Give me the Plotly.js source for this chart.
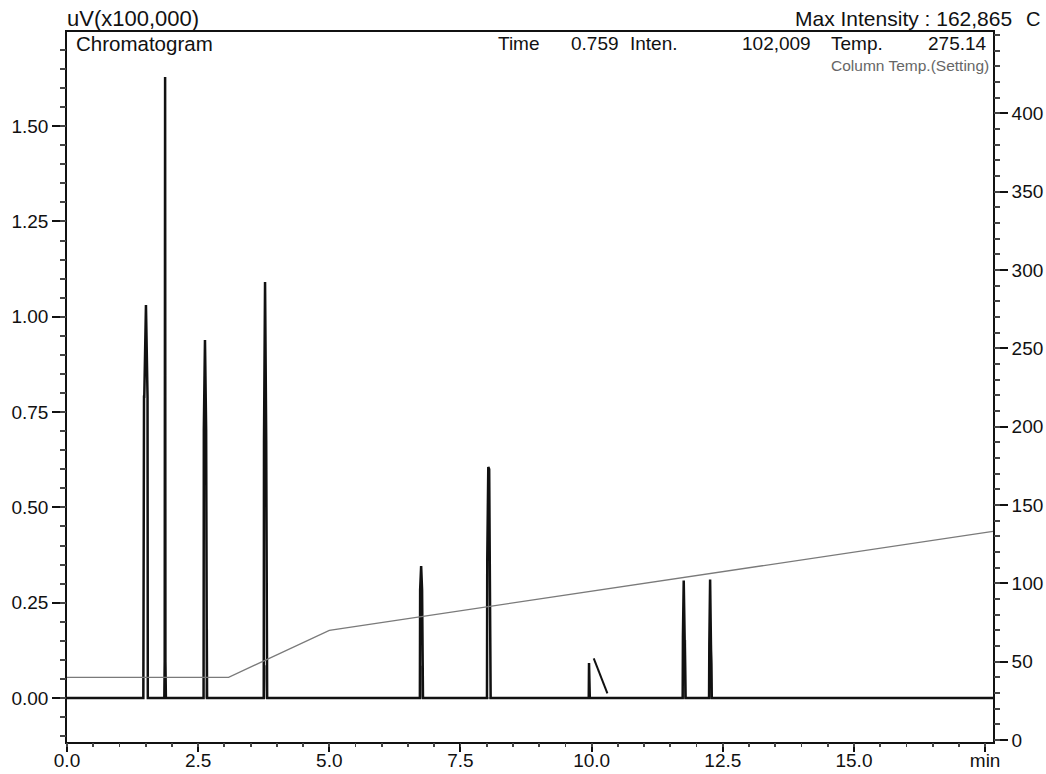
<!DOCTYPE html>
<html>
<head>
<meta charset="utf-8">
<script src="https://cdn.plot.ly/plotly-3.0.1.min.js"></script>
<style>
html,body{margin:0;padding:0;background:#fff;}
#chart{width:1046px;height:774px;}
</style>
</head>
<body>
<div id="chart"></div>
<script>
// Chromatogram signal (uV x100,000) vs retention time (min)
const chromTime = [
  0, 1.455, 1.468, 1.473, 1.505, 1.535, 1.54, 1.552,
  1.855, 1.862, 1.87, 1.876, 1.885,
  2.595, 2.603, 2.608, 2.63, 2.652, 2.657, 2.667,
  3.74, 3.75, 3.755, 3.775, 3.797, 3.802, 3.815,
  6.715, 6.726, 6.731, 6.75, 6.768, 6.772, 6.785,
  7.995, 8.005, 8.01, 8.03, 8.047, 8.058, 8.062, 8.075,
  9.935, 9.945, 9.95, 9.955, 9.965,
  11.725, 11.735, 11.74, 11.755, 11.772, 11.777, 11.79,
  12.23, 12.238, 12.243, 12.258, 12.274, 12.279, 12.29,
  17.65
];
const chromValue = [
  0, 0, 0.79, 0.79, 1.031, 0.79, 0.0, 0,
  0, 0.095, 1.629, 0.095, 0,
  0, 0, 0.703, 0.939, 0.703, 0.0, 0,
  0, 0, 0.674, 1.091, 0.674, 0.11, 0,
  0, 0, 0.283, 0.346, 0.283, 0.0, 0,
  0, 0, 0.357, 0.606, 0.600, 0.357, 0.118, 0,
  0, 0, 0.092, 0.0, 0,
  0, 0, 0.16, 0.308, 0.16, 0.0, 0,
  0, 0, 0.14, 0.311, 0.14, 0.0, 0,
  0
];
// tailing segment after the peak near 10 min
const tailTime = [10.04, 10.30];
const tailValue = [0.104, 0.012];

// light companion trace at peak bases
const lightTime = [
  2.655, 2.662, 2.676, 2.682,
  3.77, 3.777, 3.797, 3.805, 3.815,
  6.75, 6.757, 6.777, 6.784,
  11.765, 11.772, 11.79, 11.797,
  12.268, 12.275, 12.293, 12.30
];
const lightValue = [
  0, 0.18, 0.18, 0,
  0, 0.084, 0.084, 0.02, 0,
  0, 0.083, 0.083, 0,
  0, 0.15, 0.15, 0,
  0, 0.14, 0.09, 0
];

// Column temperature programme (setting), deg C
const tempTime = [0, 3.08, 5.0, 17.65];
const tempValue = [40, 40, 70, 133.2];

const xTickVals = [0, 2.5, 5.0, 7.5, 10.0, 12.5, 15.0, 17.5];
const xTickText = ['0.0', '2.5', '5.0', '7.5', '10.0', '12.5', '15.0', 'min'];
const y2TickVals = [0, 50, 100, 150, 200, 250, 300, 350, 400];

// header read-outs
const headerLeft = 'uV(x100,000)';
const headerRight = 'Max Intensity : 162,865';
const headerUnit = 'C';
const panelTitle = 'Chromatogram';
const cursorLabels = ['Time', '0.759', 'Inten.', '102,009', 'Temp.', '275.14'];
const tempLegend = 'Column Temp.(Setting)';

const FONT = 'Liberation Sans, Arial, sans-serif';

const traces = [
  {x: lightTime, y: lightValue, type: 'scatter', mode: 'lines',
   line: {color: '#8a8a8a', width: 1.4}, xaxis: 'x', yaxis: 'y'},
  {x: tempTime, y: tempValue, type: 'scatter', mode: 'lines',
   line: {color: '#7a7a7a', width: 1.3}, yaxis: 'y2'},
  {x: chromTime, y: chromValue, type: 'scatter', mode: 'lines',
   line: {color: '#111', width: 2.5}, yaxis: 'y'},
  {x: tailTime, y: tailValue, type: 'scatter', mode: 'lines',
   line: {color: '#111', width: 2}, yaxis: 'y'},
  // invisible carriers so the minor-tick overlay axes get drawn
  {x: chromTime, y: chromValue, type: 'scatter', mode: 'lines', opacity: 0,
   line: {width: 0}, xaxis: 'x2', yaxis: 'y'},
  {x: chromTime, y: chromValue, type: 'scatter', mode: 'lines', opacity: 0,
   line: {width: 0}, xaxis: 'x', yaxis: 'y3'},
  {x: tempTime, y: tempValue, type: 'scatter', mode: 'lines', opacity: 0,
   line: {width: 0}, xaxis: 'x', yaxis: 'y4'}
];

function ann(text, x, y, xanchor, size, color) {
  return {text: text, x: x, y: y, xref: 'paper', yref: 'paper',
    xanchor: xanchor, yanchor: 'middle', showarrow: false,
    font: {family: FONT, size: size, color: color || '#111'}};
}

const L = 67, R = 993, T = 32, B = 742;
const px = v => (v - L) / (R - L);
const py = v => (B - v) / (B - T);

const annotations = [
  ann(headerLeft, px(65), py(18), 'left', 22),
  ann(headerRight, px(1014), py(18), 'right', 21),
  ann(headerUnit, px(1024), py(19), 'left', 20),
  ann(panelTitle, px(74), py(44), 'left', 20.5),
  ann(cursorLabels[0], px(496), py(44), 'left', 19),
  ann(cursorLabels[1], px(621), py(44), 'right', 19),
  ann(cursorLabels[2], px(628), py(44), 'left', 19),
  ann(cursorLabels[3], px(813), py(44), 'right', 19),
  ann(cursorLabels[4], px(829), py(44), 'left', 19),
  ann(cursorLabels[5], px(989), py(44), 'right', 19),
  ann(tempLegend, px(991), py(65), 'right', 15.5, '#666')
];

const TICK = {family: FONT, size: 19, color: '#111'};

const layout = {
  width: 1046, height: 774,
  margin: {l: L, r: 1046 - R, t: T, b: 774 - B, pad: 0},
  paper_bgcolor: '#fff', plot_bgcolor: '#fff',
  showlegend: false,
  font: {family: FONT, size: 19, color: '#111'},
  xaxis: {
    range: [0, 17.65], tickvals: xTickVals, ticktext: xTickText,
    ticks: 'outside', ticklen: 8, tickwidth: 2, tickcolor: '#111',
    ticklabelstandoff: -8,
    showline: true, linecolor: '#111', linewidth: 1.8, mirror: true,
    showgrid: false, zeroline: false, tickfont: TICK
  },
  // minor time ticks
  xaxis2: {
    overlaying: 'x', side: 'bottom', anchor: 'y',
    range: [0, 17.65], dtick: 0.5, tick0: 0,
    ticks: 'outside', ticklen: 4, tickwidth: 1.8, tickcolor: '#444',
    showticklabels: false, showline: false, showgrid: false, zeroline: false
  },
  yaxis: {
    range: [-0.1154, 1.747], dtick: 0.25, tick0: 0, tickformat: '.2f',
    ticks: 'outside', ticklen: 13, tickwidth: 2, tickcolor: '#111',
    showline: true, linecolor: '#111', linewidth: 1.8, mirror: false,
    showgrid: false, zeroline: false, tickfont: TICK
  },
  yaxis2: {
    overlaying: 'y', side: 'right', anchor: 'x',
    range: [-1.3, 452], tickvals: y2TickVals,
    ticks: 'outside', ticklen: 13, tickwidth: 2, tickcolor: '#111',
    showline: true, linecolor: '#111', linewidth: 1.8,
    showgrid: false, zeroline: false, tickfont: TICK
  },
  // minor intensity ticks
  yaxis3: {
    overlaying: 'y', side: 'left', anchor: 'x',
    range: [-0.1154, 1.747], dtick: 0.05, tick0: 0,
    ticks: 'outside', ticklen: 6, tickwidth: 2, tickcolor: '#444',
    showticklabels: false, showline: false, showgrid: false, zeroline: false
  },
  // minor temperature ticks
  yaxis4: {
    overlaying: 'y', side: 'right', anchor: 'x',
    range: [-1.3, 452], dtick: 10, tick0: 0,
    ticks: 'outside', ticklen: 6, tickwidth: 2, tickcolor: '#444',
    showticklabels: false, showline: false, showgrid: false, zeroline: false
  },
  annotations: annotations
};

Plotly.newPlot('chart', traces, layout, {displayModeBar: false, staticPlot: true});
</script>
</body>
</html>
